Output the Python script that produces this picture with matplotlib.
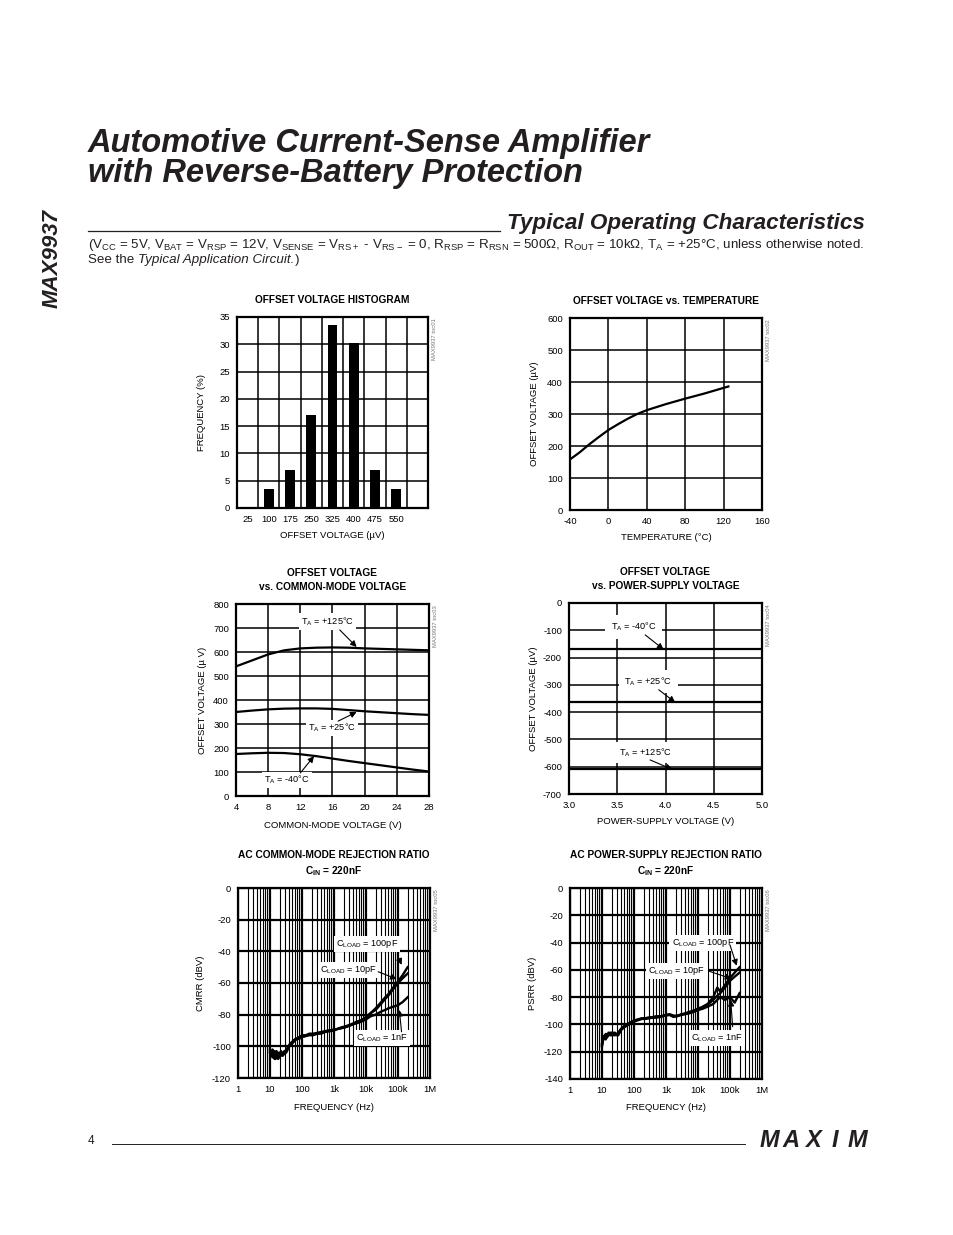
import matplotlib.pyplot as plt
from matplotlib.ticker import FixedLocator, FixedFormatter, LogLocator, NullFormatter

# ---- data ----
hist_bins = [25, 100, 175, 250, 325, 400, 475, 550]
hist_freq = [0, 3.5, 7, 17, 33.5, 30.3, 7, 3.5]

temp_c = [-40, -30, -20, -10, 0, 10, 20, 30, 40, 60, 80, 100, 125]
temp_vos = [158, 180, 205, 228, 250, 268, 285, 300, 312, 331, 348, 364, 386]

cm_v = [4, 6, 8, 10, 12, 14, 16, 18, 20, 22, 24, 26, 28]
cm_125 = [540, 565, 590, 607, 615, 618, 619, 618, 615, 613, 611, 609, 607]
cm_25 = [350, 356, 361, 364, 365, 365, 363, 358, 353, 349, 345, 341, 338]
cm_m40 = [175, 178, 180, 179, 174, 166, 156, 146, 137, 128, 119, 110, 102]

ps_v = [3.0, 3.5, 4.0, 4.5, 5.0]
ps_m40 = [-170, -170, -170, -170, -170]
ps_25 = [-364, -364, -364, -364, -364]
ps_125 = [-610, -610, -610, -610, -610]

freq = [10, 11, 12, 13, 14, 15, 16, 18, 20, 22, 25, 28, 32, 40, 50, 60, 70, 85,
        100, 130, 170, 220, 300, 400, 500, 700, 1000, 1300, 1700, 2200, 3000,
        4000, 5000, 7000, 10000, 14000, 20000, 30000, 40000, 50000, 70000,
        100000, 140000, 200000]
cmrr_100p = [-103, -106, -102, -107, -104, -108, -103, -107, -104, -106, -104, -105,
             -102, -100, -98, -96, -95, -94.5, -94, -93.5, -93, -93, -92, -92, -91,
             -90.5, -90, -89, -88.5, -88, -87, -86, -85, -84, -82, -79, -76, -72,
             -69, -67, -63, -59, -55, -50]
cmrr_10p = [-104, -103, -107, -104, -108, -105, -106, -104, -107, -103, -105, -104,
            -103, -99, -97, -95.5, -95, -94, -93, -93, -92, -92, -91.5, -91, -90.5,
            -90, -89.5, -89, -88, -87.5, -86.5, -85.5, -84.5, -83.5, -81.5, -79,
            -77, -73, -70, -68, -64, -60, -57, -54]
cmrr_1n = [-102, -105, -104, -106, -103, -107, -104, -108, -105, -104, -106, -103,
           -104, -100, -98, -96, -95.5, -95, -94, -93.5, -92.5, -92.5, -92, -91, -91,
           -90, -89.5, -89, -88.5, -88, -87, -86, -85.5, -84.5, -83, -81, -80, -78,
           -77, -76, -75, -74, -72, -69]
psrr_100p = [-116, -110, -108, -111, -107, -109, -106, -108, -107, -106, -108, -107,
             -108, -104, -102, -101, -100, -99, -98, -97, -96, -96, -95.5, -95, -95,
             -94.5, -93, -92.5, -93.5, -94, -92.5, -92, -91, -90, -88.5, -87, -85,
             -80, -73, -76, -71, -66, -62, -58]
psrr_10p = [-114, -111, -109, -108, -110, -107, -108, -107, -106, -108, -107, -108,
            -106, -103, -101, -100.5, -99.5, -98.5, -97.5, -96.5, -96, -95.5, -95,
            -95, -94.5, -94, -93.5, -93, -94, -93.5, -93, -92, -91.5, -90.5, -89,
            -87.5, -85.5, -82, -79, -77, -73, -68, -65, -62]
psrr_1n = [-115, -109, -110, -107, -109, -108, -107, -106, -108, -107, -106, -107,
           -107, -103.5, -101.5, -100, -99, -98, -97, -96.5, -95.5, -95.5, -95, -94.5,
           -94, -94, -93, -93, -94.5, -94, -93, -92.5, -92, -91, -89.5, -88.5, -87,
           -85, -82, -80, -82, -80, -84, -77]

freq_ticks = [1, 10, 100, 1000, 10000, 100000, 1000000]
freq_labels = ['1', '10', '100', '1k', '10k', '100k', '1M']

# ---- page ----
plt.rcParams['font.family'] = ['Liberation Sans', 'DejaVu Sans']
plt.rcParams['axes.unicode_minus'] = False
NARROW = ['Liberation Sans Narrow', 'Liberation Sans', 'DejaVu Sans']
INK = '#231f20'

W, H = 954, 1235
fig = plt.figure(figsize=(W / 100, H / 100), dpi=100)


def ptext(x, y, s, **kw):
    return fig.text(x / W, 1 - y / H, s, **kw)


def make_ax(l, t, r, b):
    return fig.add_axes([l / W, 1 - b / H, (r - l) / W, (b - t) / H])


def dress(ax, box, title, title_y, xlabel, xlabel_y, ylabel, ylabel_x, toc):
    l, t, r, b = box
    ax.set_axisbelow(True)
    for s in ax.spines.values():
        s.set_linewidth(1.6)
    ax.tick_params(which='both', length=0, labelsize=6.8, pad=5)
    for lab in ax.get_xticklabels() + ax.get_yticklabels():
        lab.set_family(NARROW)
    ax.text(0.5, (b - title_y) / (b - t), title, transform=ax.transAxes,
            ha='center', va='center', fontsize=7.3, fontweight='bold',
            family=NARROW, linespacing=1.45)
    ax.set_xlabel(xlabel, fontsize=6.8, family=NARROW)
    ax.set_ylabel(ylabel, fontsize=6.8, family=NARROW)
    ax.xaxis.label.set_va('center')
    ax.yaxis.label.set_va('center')
    ax.xaxis.set_label_coords(0.5, (b - xlabel_y) / (b - t))
    ax.yaxis.set_label_coords((ylabel_x - l) / (r - l), 0.5)
    ptext(r + 7, t + 1, toc, rotation=90, ha='center', va='top',
          fontsize=4.2, color='#777777', family=NARROW)


def note(ax, s, xy, frm, to, pad=1.5):
    ax.text(xy[0], xy[1], s, ha='center', va='center', fontsize=6.6,
            family=NARROW, zorder=5,
            bbox=dict(fc='white', ec='none', pad=pad))
    ax.annotate('', xy=to, xytext=frm, zorder=6,
                arrowprops=dict(arrowstyle='-|>', color='k', lw=0.8,
                                mutation_scale=9, shrinkA=0, shrinkB=0))


grid_kw = dict(color='black', lw=1.1)

# 1: histogram
box1 = (237, 317, 428, 508)
ax1 = make_ax(*box1)
ax1.bar(hist_bins, hist_freq, width=34, color='black', zorder=3)
ax1.set_xlim(-12.5, 662.5)
ax1.set_ylim(0, 35)
ax1.set_xticks(hist_bins)
ax1.set_xticks([-12.5 + 75 * i for i in range(10)], minor=True)
ax1.set_yticks(range(0, 36, 5))
ax1.grid(True, axis='x', which='minor', **grid_kw)
ax1.grid(True, axis='y', which='major', **grid_kw)
dress(ax1, box1, 'OFFSET VOLTAGE HISTOGRAM', 300, 'OFFSET VOLTAGE (µV)', 536,
      'FREQUENCY (%)', 202, 'MAX9937 toc01')

# 2: offset vs temperature
box2 = (570, 318, 762, 510)
ax2 = make_ax(*box2)
ax2.plot(temp_c, temp_vos, color='black', lw=1.6)
ax2.set_xlim(-40, 160)
ax2.set_ylim(0, 600)
ax2.set_xticks(range(-40, 161, 40))
ax2.set_yticks(range(0, 601, 100))
ax2.grid(True, **grid_kw)
dress(ax2, box2, 'OFFSET VOLTAGE vs. TEMPERATURE', 301, 'TEMPERATURE (°C)', 538,
      'OFFSET VOLTAGE (µV)', 535, 'MAX9937 toc02')

# 3: offset vs common-mode voltage
box3 = (236, 604, 429, 796)
ax3 = make_ax(*box3)
for ys in (cm_125, cm_25, cm_m40):
    ax3.plot(cm_v, ys, color='black', lw=1.6)
ax3.set_xlim(4, 28)
ax3.set_ylim(0, 800)
ax3.set_xticks(range(4, 29, 4))
ax3.set_yticks(range(0, 801, 100))
ax3.grid(True, **grid_kw)
dress(ax3, box3, 'OFFSET VOLTAGE\nvs. COMMON-MODE VOLTAGE', 580,
      'COMMON-MODE VOLTAGE (V)', 825, 'OFFSET VOLTAGE (µ V)', 203, 'MAX9937 toc03')
note(ax3, r'T$_\mathregular{A}$ = +125°C', (15.4, 727), (16.9, 692), (19.0, 621))
note(ax3, r'T$_\mathregular{A}$ = +25°C', (15.9, 283), (16.7, 312), (19.0, 350))
note(ax3, r'T$_\mathregular{A}$ = -40°C', (10.3, 67), (12.0, 96), (13.7, 166))

# 4: offset vs supply voltage
box4 = (569, 603, 762, 794)
ax4 = make_ax(*box4)
for ys in (ps_m40, ps_25, ps_125):
    ax4.plot(ps_v, ys, color='black', lw=1.6)
ax4.set_xlim(3.0, 5.0)
ax4.set_ylim(-700, 0)
ax4.set_xticks([3.0, 3.5, 4.0, 4.5, 5.0])
ax4.set_xticklabels(['3.0', '3.5', '4.0', '4.5', '5.0'])
ax4.set_yticks(range(-700, 1, 100))
ax4.grid(True, **grid_kw)
dress(ax4, box4, 'OFFSET VOLTAGE\nvs. POWER-SUPPLY VOLTAGE', 579,
      'POWER-SUPPLY VOLTAGE (V)', 822, 'OFFSET VOLTAGE (µV)', 533, 'MAX9937 toc04')
note(ax4, r'T$_\mathregular{A}$ = -40°C', (3.67, -87), (3.79, -117), (3.98, -170), pad=4)
note(ax4, r'T$_\mathregular{A}$ = +25°C', (3.82, -288), (3.93, -318), (4.10, -364), pad=4)
note(ax4, r'T$_\mathregular{A}$ = +125°C', (3.79, -548), (3.84, -575), (4.07, -610), pad=3)


def log_axes(ax, ylo):
    ax.set_xscale('log')
    ax.set_xlim(1, 1e6)
    ax.set_ylim(ylo, 0)
    ax.xaxis.set_major_locator(FixedLocator(freq_ticks))
    ax.xaxis.set_major_formatter(FixedFormatter(freq_labels))
    ax.xaxis.set_minor_locator(LogLocator(base=10, subs=range(2, 10), numticks=20))
    ax.xaxis.set_minor_formatter(NullFormatter())
    ax.set_yticks(range(ylo, 1, 20))
    ax.grid(True, which='major', color='black', lw=1.6)
    ax.grid(True, axis='x', which='minor', color='black', lw=0.8)


# 5: CMRR
box5 = (238, 888, 430, 1078)
ax5 = make_ax(*box5)
for ys in (cmrr_100p, cmrr_10p, cmrr_1n):
    ax5.plot(freq, ys, color='black', lw=1.7)
log_axes(ax5, -120)
dress(ax5, box5, 'AC COMMON-MODE REJECTION RATIO\nC$_\\mathregular{IN}$ = 220nF', 864,
      'FREQUENCY (Hz)', 1107, 'CMRR (dBV)', 201, 'MAX9937 toc05')
note(ax5, r'C$_\mathregular{LOAD}$ = 100pF', (10700, -35.6), (95000, -42.3), (130000, -48.5))
note(ax5, r'C$_\mathregular{LOAD}$ = 10pF', (2800, -51.8), (24000, -52.9), (91000, -57.5))
note(ax5, r'C$_\mathregular{LOAD}$ = 1nF', (31000, -94.6), (129000, -90.8), (110000, -77))

# 6: PSRR
box6 = (570, 888, 762, 1079)
ax6 = make_ax(*box6)
for ys in (psrr_100p, psrr_10p, psrr_1n):
    ax6.plot(freq, ys, color='black', lw=1.7)
log_axes(ax6, -140)
dress(ax6, box6, 'AC POWER-SUPPLY REJECTION RATIO\nC$_\\mathregular{IN}$ = 220nF', 864,
      'FREQUENCY (Hz)', 1108, 'PSRR (dBV)', 533, 'MAX9937 toc06')
note(ax6, r'C$_\mathregular{LOAD}$ = 100pF', (14000, -40.3), (100000, -41.8), (162000, -57))
note(ax6, r'C$_\mathregular{LOAD}$ = 10pF', (2200, -60.8), (21000, -60.8), (112000, -66.5))
note(ax6, r'C$_\mathregular{LOAD}$ = 1nF', (40000, -110), (121000, -101.7), (105000, -82))

# ---- page furniture ----
ptext(52, 258, 'MAX9937', rotation=90, ha='center', va='center',
      fontsize=16, fontweight='bold', style='italic', color=INK)
ptext(88, 152, 'Automotive Current-Sense Amplifier', ha='left', va='baseline',
      fontsize=23.5, fontweight='bold', style='italic', color=INK)
ptext(88, 182, 'with Reverse-Battery Protection', ha='left', va='baseline',
      fontsize=23.5, fontweight='bold', style='italic', color=INK)

ptext(865, 229, 'Typical Operating Characteristics', ha='right', va='baseline',
      fontsize=16.2, fontweight='bold', style='italic', color=INK)
fig.add_artist(plt.Line2D([88 / W, 500 / W], [1 - 231 / H, 1 - 231 / H],
                          color=INK, lw=0.9))

sub1 = (r'(V$_\mathregular{CC}$ = 5V, V$_\mathregular{BAT}$ = V$_\mathregular{RSP}$ = 12V, '
        r'V$_\mathregular{SENSE}$ = V$_\mathregular{RS+}$ - V$_\mathregular{RS-}$ = 0, '
        r'R$_\mathregular{RSP}$ = R$_\mathregular{RSN}$ = 500Ω, R$_\mathregular{OUT}$ = 10kΩ, '
        r'T$_\mathregular{A}$ = +25°C, unless otherwise noted.')
ptext(88, 248, sub1, ha='left', va='baseline', fontsize=9.65, color=INK)
t_see = ptext(88, 263, 'See the ', ha='left', va='baseline', fontsize=9.65, color=INK)
fig.canvas.draw()
rend = fig.canvas.get_renderer()
bb = t_see.get_window_extent(rend)
t_it = fig.text(bb.x1 / W, 1 - 263 / H, 'Typical Application Circuit.', ha='left',
                va='baseline', fontsize=9.65, style='italic', color=INK)
bb2 = t_it.get_window_extent(rend)
fig.text(bb2.x1 / W, 1 - 263 / H, ')', ha='left', va='baseline', fontsize=9.65,
         color=INK)

# footer
ptext(88, 1144, '4', ha='left', va='baseline', fontsize=8.5, color=INK)
fig.add_artist(plt.Line2D([112 / W, 745 / W], [1 - 1144 / H, 1 - 1144 / H],
                          color=INK, lw=0.7))
for i, ch in enumerate('MAXIM'):
    ptext(769 + i * 22, 1147, ch, ha='center', va='baseline', fontsize=17,
          fontweight='bold', style='italic', color=INK)

fig.savefig('out.png', dpi=100)
